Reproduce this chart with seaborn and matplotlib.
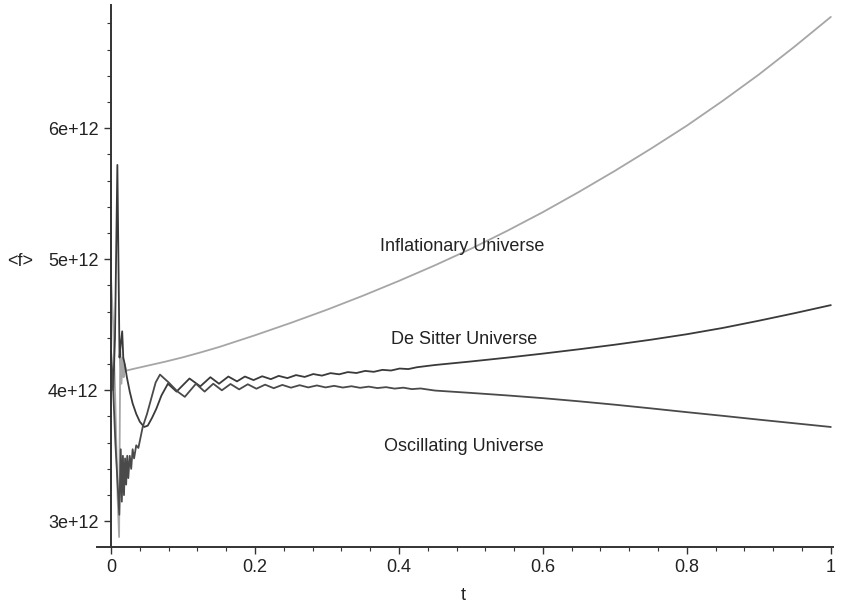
import numpy as np
import pandas as pd
import matplotlib
matplotlib.use('Agg')
import matplotlib.pyplot as plt
import seaborn as sns
from matplotlib.ticker import MultipleLocator

# values, <f> in units of 1e12
t_infl = [0, 0.003, 0.006, 0.009, 0.0112, 0.0128, 0.0145, 0.016, 0.0175, 0.019, 0.021,
          0.03, 0.05, 0.075, 0.1, 0.125, 0.15, 0.2, 0.25, 0.3, 0.35, 0.4, 0.45, 0.5, 0.55,
          0.6, 0.65, 0.7, 0.75, 0.8, 0.85, 0.9, 0.95, 1.0]
f_infl = [4.86, 4.5, 3.9, 3.2, 2.88, 4.3, 4.05, 4.25, 4.1, 4.2, 4.15,
          4.162, 4.187, 4.218, 4.252, 4.29, 4.33, 4.42, 4.515, 4.615, 4.722, 4.835, 4.954, 5.08, 5.216,
          5.36, 5.514, 5.675, 5.844, 6.02, 6.21, 6.41, 6.625, 6.85]

t_desitter = [0, 0.003, 0.0055, 0.0088, 0.0118, 0.0135, 0.0155, 0.017, 0.019, 0.022,
              0.026, 0.03, 0.035, 0.04, 0.046, 0.051, 0.057, 0.063, 0.07, 0.079, 0.091,
              0.109, 0.124, 0.138, 0.15, 0.163, 0.175, 0.186, 0.198, 0.21, 0.222, 0.233,
              0.245, 0.257, 0.269, 0.281, 0.293, 0.305, 0.317, 0.329, 0.341, 0.353, 0.365,
              0.377, 0.389, 0.401, 0.413, 0.425, 0.45, 0.5, 0.55, 0.6, 0.65, 0.7, 0.75,
              0.8, 0.85, 0.9, 0.95, 1.0]
f_desitter = [4.2, 4.0, 4.4, 5.72, 4.25, 4.35, 4.45, 4.25, 4.2, 4.1,
              3.99, 3.9, 3.82, 3.76, 3.72, 3.73, 3.79, 3.86, 3.96, 4.05, 3.99,
              4.09, 4.03, 4.10, 4.05, 4.105, 4.068, 4.105, 4.078, 4.107, 4.085, 4.11,
              4.093, 4.116, 4.102, 4.124, 4.112, 4.131, 4.122, 4.139, 4.132, 4.148, 4.141,
              4.156, 4.151, 4.166, 4.162, 4.176, 4.193, 4.22, 4.249, 4.28, 4.313, 4.348, 4.386,
              4.428, 4.476, 4.531, 4.589, 4.65]

t_osc = [0, 0.003, 0.006, 0.009, 0.0115, 0.0135, 0.015, 0.0165, 0.018, 0.0195, 0.021,
         0.0225, 0.024, 0.026, 0.028, 0.03, 0.032, 0.035, 0.038, 0.041, 0.044, 0.05,
         0.056, 0.062, 0.068, 0.08, 0.0925, 0.1025, 0.118, 0.13, 0.142, 0.154, 0.166,
         0.178, 0.19, 0.202, 0.214, 0.226, 0.238, 0.25, 0.262, 0.274, 0.286, 0.298,
         0.31, 0.322, 0.334, 0.346, 0.358, 0.37, 0.382, 0.394, 0.406, 0.418, 0.43,
         0.45, 0.5, 0.55, 0.6, 0.65, 0.7, 0.75, 0.8, 0.85, 0.9, 0.95, 1.0]
f_osc = [4.3, 4.0, 3.6, 3.3, 3.05, 3.55, 3.15, 3.5, 3.2, 3.48, 3.28,
         3.5, 3.33, 3.5, 3.4, 3.55, 3.48, 3.58, 3.56, 3.64, 3.72, 3.82,
         3.94, 4.06, 4.12, 4.06, 3.99, 3.95, 4.05, 3.99, 4.05, 4.0, 4.048,
         4.007, 4.046, 4.012, 4.043, 4.016, 4.041, 4.02, 4.039, 4.022, 4.037, 4.022,
         4.034, 4.021, 4.031, 4.019, 4.028, 4.017, 4.024, 4.013, 4.02, 4.009, 4.014,
         3.998, 3.98, 3.961, 3.94, 3.916, 3.89, 3.862, 3.833, 3.805, 3.776, 3.748, 3.72]

curve_names = ['Inflationary Universe', 'De Sitter Universe', 'Oscillating Universe']
y_tick_vals = [3, 4, 5, 6]
y_tick_labels = ['3e+12', '4e+12', '5e+12', '6e+12']
x_tick_vals = [0, 0.2, 0.4, 0.6, 0.8, 1.0]
x_tick_labels = ['0', '0.2', '0.4', '0.6', '0.8', '1']

sns.set_style('ticks')
plt.rcParams['font.family'] = ['Liberation Sans', 'DejaVu Sans']

fig = plt.figure(figsize=(8.42, 6.07), dpi=100)
ax = fig.add_axes([0.1152, 0.0993, 0.8741, 0.8925])

# Draw the three curves
sns.lineplot(x=t_infl, y=f_infl, ax=ax, color='#a6a6a6', linewidth=1.3, estimator=None)
sns.lineplot(x=t_desitter, y=f_desitter, ax=ax, color='#3a3a3a', linewidth=1.3, estimator=None)
sns.lineplot(x=t_osc, y=f_osc, ax=ax, color='#4a4a4a', linewidth=1.3, estimator=None)

ax.set_xlim(-0.0195, 1.003)
ax.set_ylim(2.806, 6.941)

# Maple style axes: y axis through t = 0
for side in ['top', 'right']:
    ax.spines[side].set_visible(False)
ax.spines['left'].set_position(('data', 0))
ax.spines['left'].set_color('#333333')
ax.spines['bottom'].set_color('#333333')
ax.spines['left'].set_linewidth(1.4)
ax.spines['bottom'].set_linewidth(1.4)

ax.set_xticks(x_tick_vals)
ax.set_xticklabels(x_tick_labels)
ax.set_yticks(y_tick_vals)
ax.set_yticklabels(y_tick_labels)
ax.xaxis.set_minor_locator(MultipleLocator(0.04))
ax.yaxis.set_minor_locator(MultipleLocator(0.2))
ax.tick_params(which='major', length=5, width=1, color='#333333', labelsize=13,
               labelcolor='#222222', direction='out', pad=4)
ax.tick_params(which='minor', length=3, width=0.8, color='#333333', direction='out')
ax.set_xlabel('')
ax.set_ylabel('')

# Curve labels
ax.text(0.488, 5.10, curve_names[0], ha='center', va='center', fontsize=13, color='#222222')
ax.text(0.49, 4.39, curve_names[1], ha='center', va='center', fontsize=13, color='#222222')
ax.text(0.49, 3.57, curve_names[2], ha='center', va='center', fontsize=13, color='#222222')

fig.text(20 / 842, 1 - 262 / 607, '<f>', ha='center', va='center', fontsize=13, color='#222222')
fig.text(463 / 842, 1 - 595 / 607, 't', ha='center', va='center', fontsize=13, color='#222222')

fig.savefig('out.png', dpi=100)
